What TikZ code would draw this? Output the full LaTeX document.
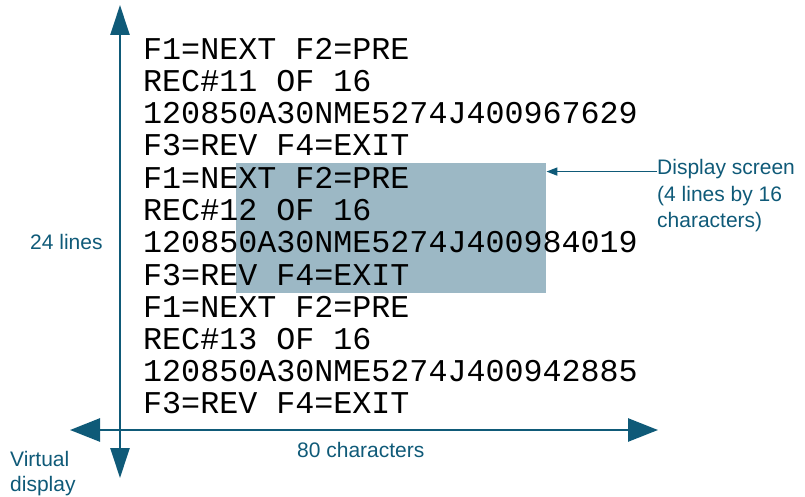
\documentclass[tikz,border=0pt]{standalone}
\usepackage{fontspec}
\setmainfont{Liberation Sans}
\newfontfamily\monofont{Liberation Mono}
\usetikzlibrary{arrows.meta}
\definecolor{axiscol}{HTML}{0F5A78}
\definecolor{screencol}{HTML}{9CB8C5}
\begin{document}
\begin{tikzpicture}[x=1pt,y=-1pt,
  mono/.style={font=\monofont\fontsize{31.7}{32}\selectfont, anchor=base west, inner sep=0pt},
  lab/.style={font=\fontsize{21}{26}\selectfont, text=axiscol, inner sep=0pt, anchor=base west},
  axis/.style={draw=axiscol, line width=2.6pt}]
\useasboundingbox (0,0) rectangle (805,497);
\node[fill=screencol, minimum width=310pt, minimum height=130pt, anchor=north west, inner sep=0pt] (screen) at (236,163) {};
\node[mono] (l1) at (143,60) {F1=NEXT F2=PRE};
\node[mono] (l2) at (143,92) {REC\#11 OF 16};
\node[mono] (l3) at (143,124) {120850A30NME5274J400967629};
\node[mono] (l4) at (143,156) {F3=REV F4=EXIT};
\node[mono] (l5) at (143,188.5) {F1=NEXT F2=PRE};
\node[mono] (l6) at (143,220.5) {REC\#12 OF 16};
\node[mono] (l7) at (143,252.5) {120850A30NME5274J400984019};
\node[mono] (l8) at (143,285) {F3=REV F4=EXIT};
\node[mono] (l9) at (143,317) {F1=NEXT F2=PRE};
\node[mono] (l10) at (143,349) {REC\#13 OF 16};
\node[mono] (l11) at (143,381) {120850A30NME5274J400942885};
\node[mono] (l12) at (143,413) {F3=REV F4=EXIT};
\coordinate (vt) at (120,5);
\coordinate (vb) at (120,478);
\coordinate (hl) at (70,430);
\coordinate (hr) at (658,430);
\draw[axis, {Triangle[length=30pt,width=19pt]}-{Triangle[length=30pt,width=19pt]}, fill=axiscol] (vb) -- (vt);
\draw[axis, {Triangle[length=30pt,width=23pt]}-{Triangle[length=30pt,width=23pt]}, fill=axiscol] (hl) -- (hr);
\node[lab] (d1) at (657,175) {Display screen};
\node[lab] (d2) at (657,201) {(4 lines by 16};
\node[lab] (d3) at (657,227) {characters)};
\draw[draw=axiscol, line width=1.6pt, -{Triangle[length=11pt,width=8pt]}] ([yshift=-2pt]d1.west) -- ([yshift=-2pt]d1.west -| screen.east);
\node[lab] (lines) at (30,249) {24 lines};
\node[lab] (chars) at (297,457) {80 characters};
\node[lab] (v1) at (10,466) {Virtual};
\node[lab] (v2) at (10,491) {display};
\end{tikzpicture}
\end{document}
